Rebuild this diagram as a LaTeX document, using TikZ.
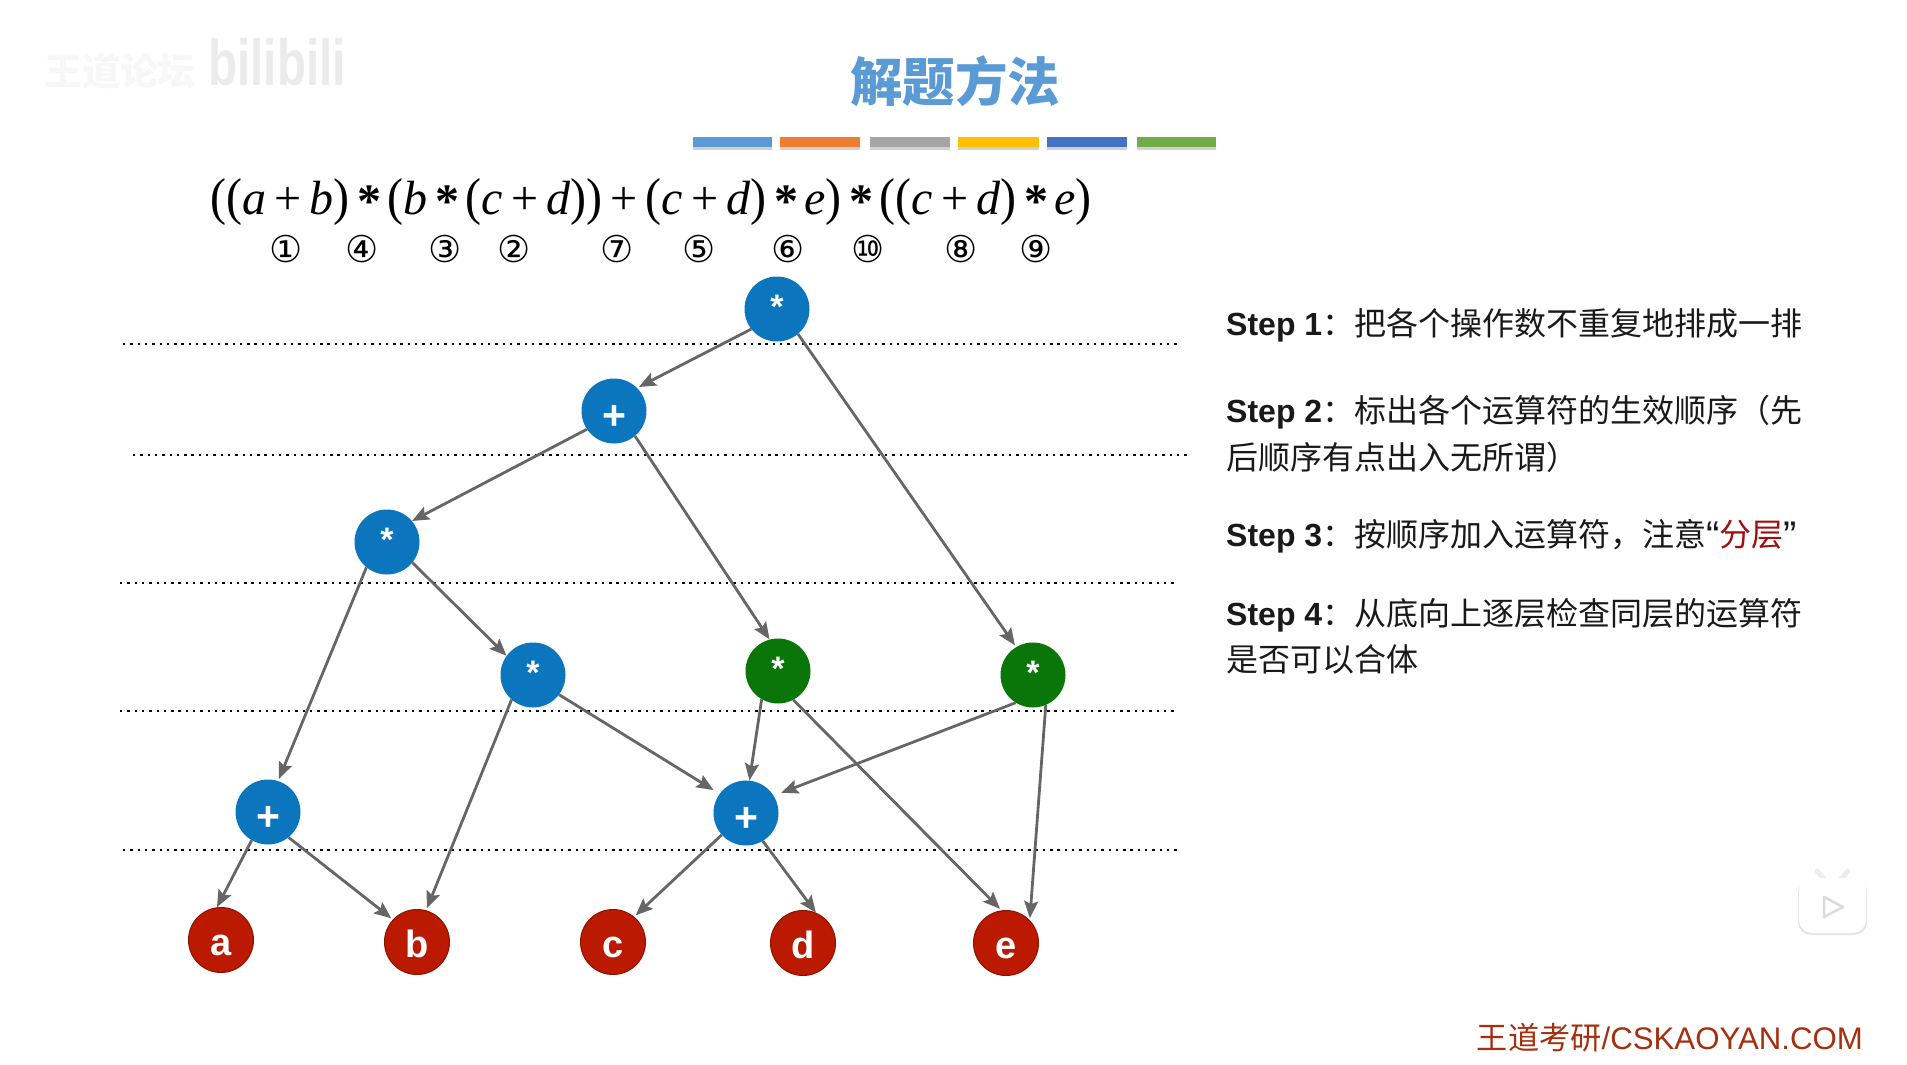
\documentclass[tikz,border=0pt]{standalone}
\usepackage{fontspec}
\usetikzlibrary{arrows.meta,shadows}
\setmainfont{Liberation Sans}
\newfontfamily\cjk{Noto Sans CJK SC}
\newfontfamily\mathserif{Liberation Serif}
\newfontfamily\circled{DejaVu Sans}
\definecolor{nblue}{HTML}{0B76BE}
\definecolor{ngreen}{HTML}{0A760A}
\definecolor{nred}{HTML}{BB1A00}
\definecolor{nredd}{HTML}{8E1200}
\definecolor{arrowgray}{HTML}{666666}
\definecolor{titleblue}{HTML}{5B9BD5}
\definecolor{footred}{HTML}{A5300F}
\definecolor{stepred}{HTML}{A01010}
\newcommand{\fsz}[1]{\fontsize{#1}{#1}\selectfont}
\newcommand{\lpar}{\raisebox{-0.02em}{\scalebox{1}[1.08]{(}}}
\newcommand{\rpar}{\raisebox{-0.02em}{\scalebox{1}[1.08]{)}}}
\newcommand{\opstar}{\kern0.17em\raisebox{-0.08em}{\bfseries*}\kern0.12em}
\newcommand{\opplus}{\kern0.17em+\kern0.17em}
\newcommand{\stepline}[2]{{\fontsize{32}{32}\selectfont\bfseries\fontspec{Liberation Sans}#1\cjk\mdseries：#2}}
\tikzset{
  opnode/.style={circle,minimum size=65,inner sep=0,text=white,text depth=0pt,font=\fsz{34}\bfseries},
  starnode/.style={opnode,text height=18pt},
  plusnode/.style={opnode,fill=nblue,font=\fsz{41}\bfseries,text height=36pt},
  bluenode/.style={starnode,fill=nblue},
  greennode/.style={starnode,fill=ngreen},
  rednode/.style={opnode,fill=nred,draw=nredd,line width=1,font=\fsz{38}\bfseries,text height=31pt},
  conn/.style={draw=arrowgray,line width=2.8,shorten >=2,-{Stealth[length=17,width=14,inset=3]}},
  level/.style={draw=black,line width=2.4,dash pattern=on 2.4 off 4.9},
  bar/.style={minimum height=10,inner sep=0,minimum width=80},
  barshadow/.style={fill=black!18,inner sep=0,minimum height=10},
  steptext/.style={anchor=west,inner sep=0,text=black!90},
  order/.style={inner sep=0,font=\circled\fsz{37}},
}
\begin{document}
\begin{tikzpicture}[x=1pt,y=-1pt]
\useasboundingbox (0,0) rectangle (1907,1065);
% watermark
\node[inner sep=0,text=black!3,font=\cjk\bfseries\fsz{38}] (wm) at (120,71) {王道论坛};
\node[inner sep=0,text=black!8,font=\bfseries\fsz{50}] (bili) at (277,62) {\scalebox{0.95}[1.3]{bilibili}};
% title
\node[inner sep=0,text=titleblue,font=\cjk\bfseries\fsz{52.5}] (title) at (955,81) {解题方法};
\node[barshadow,minimum width=79] (sh1) at (732.5,145) {};
\node[barshadow,minimum width=80] (sh2) at (820,145) {};
\node[barshadow,minimum width=80] (sh3) at (910,145) {};
\node[barshadow,minimum width=81] (sh4) at (998.5,145) {};
\node[barshadow,minimum width=80] (sh5) at (1087,145) {};
\node[barshadow,minimum width=79] (sh6) at (1176.5,145) {};
\node[bar,fill=titleblue,minimum width=79] (b1) at (732.5,142) {};
\node[bar,fill={rgb,255:red,237;green,125;blue,49},minimum width=80] (b2) at (820,142) {};
\node[bar,fill={rgb,255:red,165;green,165;blue,165},minimum width=80] (b3) at (910,142) {};
\node[bar,fill={rgb,255:red,255;green,192;blue,0},minimum width=81] (b4) at (998.5,142) {};
\node[bar,fill={rgb,255:red,68;green,114;blue,196},minimum width=80] (b5) at (1087,142) {};
\node[bar,fill={rgb,255:red,112;green,173;blue,71},minimum width=79] (b6) at (1176.5,142) {};
% formula
\node[inner sep=0,anchor=base,font=\mathserif\fsz{48}] (formula) at (651,214) {%
\lpar\lpar\textit{a}\opplus\textit{b}\rpar\opstar\lpar\textit{b}\opstar\lpar\textit{c}\opplus\textit{d}\rpar\rpar\opplus\lpar\textit{c}\opplus\textit{d}\rpar\opstar\textit{e}\rpar\opstar\lpar\lpar\textit{c}\opplus\textit{d}\rpar\opstar\textit{e}\rpar};
\node[order] (o1) at (286,249) {①};
\node[order] (o2) at (362,249) {④};
\node[order] (o3) at (445,249) {③};
\node[order] (o4) at (514,249) {②};
\node[order] (o5) at (617,249) {⑦};
\node[order] (o6) at (699,249) {⑤};
\node[order] (o7) at (788,249) {⑥};
\node[order] (o8) at (868,249) {⑩};
\node[order] (o9) at (961,249) {⑧};
\node[order] (o10) at (1036,249) {⑨};
% levels
\draw[level] (123,344) -- (1181,344);
\draw[level] (133,455) -- (1191,455);
\draw[level] (120,583) -- (1178,583);
\draw[level] (120,711) -- (1178,711);
\draw[level] (123,850) -- (1181,850);
% nodes
\node[bluenode] (top) at (777,309) {*};
\node[plusnode] (plus) at (614,411) {+};
\node[bluenode] (starL) at (387,542) {*};
\node[bluenode] (starM) at (533,675) {*};
\node[greennode] (gone) at (778,671) {*};
\node[greennode] (gtwo) at (1033,675) {*};
\node[plusnode] (plusL) at (268,812) {+};
\node[plusnode] (plusR) at (746,813) {+};
\node[rednode] (a) at (221,940) {a};
\node[rednode] (b) at (417,942) {b};
\node[rednode] (c) at (613,942) {c};
\node[rednode] (d) at (803,943) {d};
\node[rednode] (e) at (1006,943) {e};
% connectors
\draw[conn] (top.218) -- (plus.45);
\draw[conn] (top.-50) -- (gtwo.121);
\draw[conn,shorten >=0] (plus.214) -- (starL.40);
\draw[conn,shorten >=0] (plus.-50) -- (gone.105);
\draw[conn] (starL.231) -- (plusL.72);
\draw[conn,shorten >=0] (starL.-39) -- (starM.144);
\draw[conn] (starM.229) -- (b.74);
\draw[conn,shorten >=7] (starM.-37) -- (plusR.144);
\draw[conn,shorten >=0] (gone.240) -- (plusR.84);
\draw[conn] (gone.-62) -- (e.98);
\draw[conn,shorten >=8] (gtwo.238) -- (plusR.32);
\draw[conn] (gtwo.-67) -- (e.44);
\draw[conn,shorten >=0] (plusL.240) -- (a.97);
\draw[conn] (plusL.-51) -- (b.137);
\draw[conn] (plusR.222) -- (c.50);
\draw[conn,shorten >=0] (plusR.-59) -- (d.67);
% steps
\node[steptext] (s1) at (1226,325) {\stepline{Step 1}{把各个操作数不重复地排成一排}};
\node[steptext] (s2) at (1226,412) {\stepline{Step 2}{标出各个运算符的生效顺序（先}};
\node[steptext,font=\cjk\fsz{32}] (s2b) at (1226,457) {后顺序有点出入无所谓）};
\node[steptext] (s3) at (1226,536) {\stepline{Step 3}{按顺序加入运算符，注意{\fontspec{Liberation Sans}\fsz{40}\raisebox{-3pt}{“}}\textcolor{stepred}{分层}{\fontspec{Liberation Sans}\fsz{40}\raisebox{-3pt}{”}}}};
\node[steptext] (s4) at (1226,615) {\stepline{Step 4}{从底向上逐层检查同层的运算符}};
\node[steptext,font=\cjk\fsz{32}] (s4b) at (1226,659) {是否可以合体};
% footer
\node[inner sep=0,anchor=east,text=footred,font=\fsz{31.2}] (foot) at (1863,1038) {{\cjk 王道考研}/CSKAOYAN.COM};
% tv icon
\draw[black!7,line width=5,line cap=round] (1817,871) -- (1826,881) (1848,871) -- (1839,881);
\fill[black!10,rounded corners=13] (1798,880) rectangle (1867,935);
\fill[white,rounded corners=13] (1799,878) rectangle (1866,933);
\draw[black!14,fill=white,line width=2.5,line join=round] (1824,897) -- (1824,917) -- (1843,907) -- cycle;
\end{tikzpicture}
\end{document}
